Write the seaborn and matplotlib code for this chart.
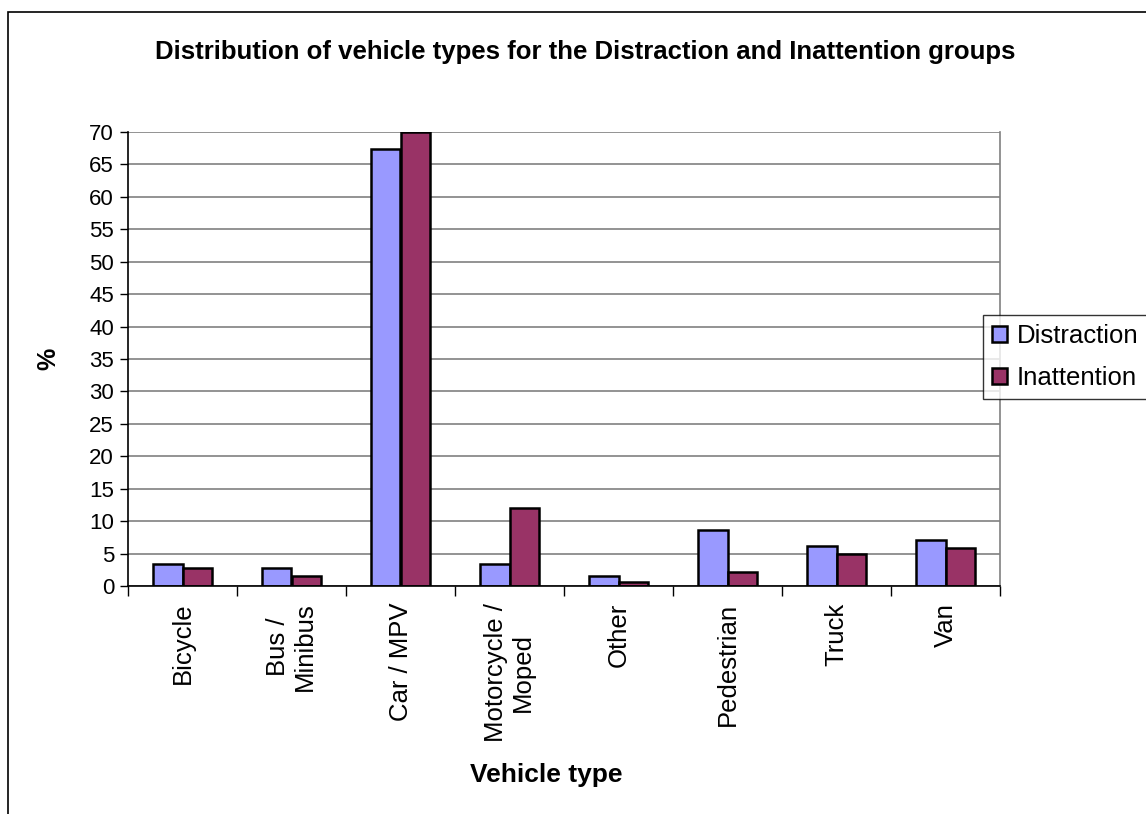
import matplotlib
matplotlib.use("Agg")
import matplotlib.pyplot as plt
import seaborn as sns
import pandas as pd
from matplotlib.patches import Rectangle

categories = ["Bicycle", "Bus /\nMinibus", "Car / MPV", "Motorcycle /\nMoped", "Other",
              "Pedestrian", "Truck", "Van"]
distraction = [3.4, 2.8, 67.4, 3.4, 1.5, 8.7, 6.2, 7.1]
inattention = [2.8, 1.5, 70.0, 12.0, 0.6, 2.2, 5.0, 5.9]
series_names = ["Distraction", "Inattention"]
colors = ["#9999ff", "#993366"]
yticks = list(range(0, 75, 5))

df = pd.DataFrame({
    "Vehicle": categories * 2,
    "Group": [series_names[0]] * len(categories) + [series_names[1]] * len(categories),
    "Value": distraction + inattention,
})

sns.set_theme(style="white", rc={"text.color": "black", "axes.labelcolor": "black",
                                 "xtick.color": "black", "ytick.color": "black"})
plt.rcParams["font.family"] = ["Liberation Sans", "DejaVu Sans"]

fig = plt.figure(figsize=(11.46, 8.14), dpi=100)
ax = fig.add_axes([128/1146, 1-586/814, (1000-128)/1146, (586-132)/814])

sns.barplot(data=df, x="Vehicle", y="Value", hue="Group", palette=colors, saturation=1,
            width=0.55, edgecolor="black", linewidth=1.8, ax=ax, legend=True)

ax.set_ylim(0, 70)
ax.set_xlim(-0.5, len(categories) - 0.5)
ax.set_yticks(yticks)
ax.set_yticklabels([str(t) for t in yticks], fontsize=16)
ax.yaxis.grid(True, color="#808080", linewidth=1.2)
ax.set_axisbelow(True)

ax.set_xticks([i for i in range(len(categories))])
ax.set_xticklabels(categories, rotation=90, fontsize=18.5, va="top", ha="center",
                   multialignment="center", linespacing=1.15)
ax.tick_params(axis="x", length=0, pad=12)
ax.tick_params(axis="y", length=6, width=1, color="black", direction="out", left=True, pad=4)
ax.set_xticks([i + 0.5 for i in range(-1, len(categories))], minor=True)
ax.tick_params(axis="x", which="minor", length=7, width=1, color="black", direction="out", bottom=True)

for side in ["left", "bottom"]:
    ax.spines[side].set_color("black")
    ax.spines[side].set_linewidth(1.2)
ax.spines["right"].set_color("#808080")
ax.spines["right"].set_linewidth(1.2)
ax.spines["top"].set_visible(False)

ax.set_xlabel("Vehicle type", fontsize=19, fontweight="bold")
ax.xaxis.set_label_coords((546-128)/872, (586-775)/454)
ax.xaxis.label.set_va("center")
ax.set_ylabel("%", fontsize=18, fontweight="bold")
ax.yaxis.set_label_coords((48-128)/872, 0.5)
ax.yaxis.label.set_va("center")

fig.text(585/1146, 1-52/814, "Distribution of vehicle types for the Distraction and Inattention groups",
         ha="center", va="center", fontsize=18.5, fontweight="bold")

leg = ax.legend(loc="center left", bbox_to_anchor=(983/1146, 1-357/814), bbox_transform=fig.transFigure,
                fontsize=18.5, frameon=True, fancybox=False, edgecolor="black",
                handlelength=0.6, handleheight=0.6, handletextpad=0.35, borderpad=0.35,
                labelspacing=0.7, borderaxespad=0)
leg.get_frame().set_linewidth(1.0)

fig.patches.append(Rectangle((8/1146, -0.1), 1.2, 1.1-12/814, transform=fig.transFigure,
                             fill=False, edgecolor="black", linewidth=1.2))

fig.savefig("out.png", dpi=100)
